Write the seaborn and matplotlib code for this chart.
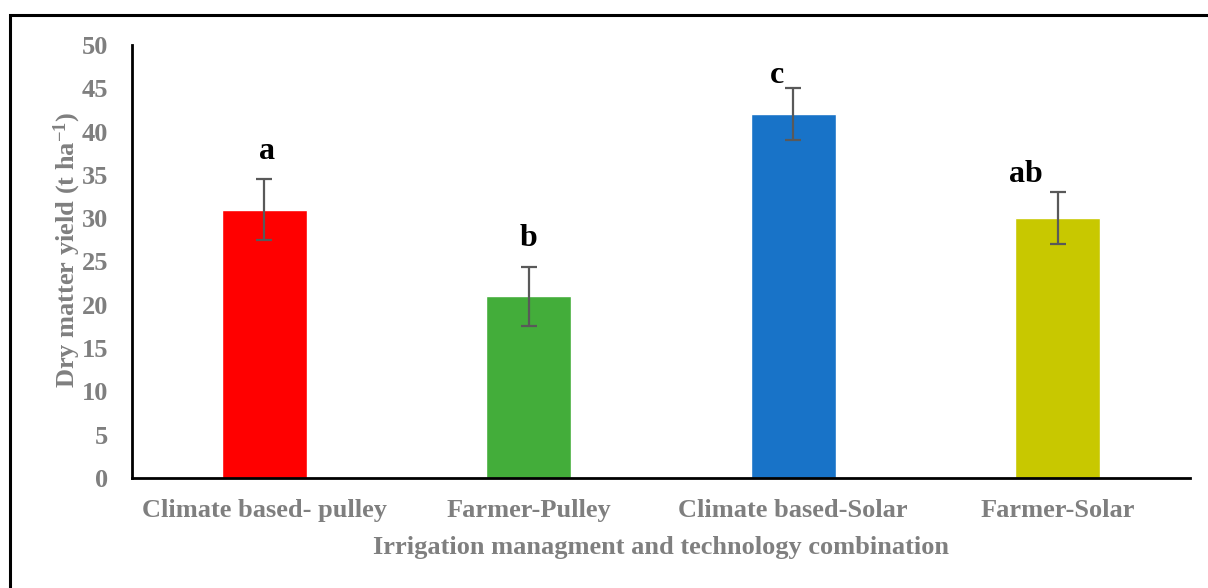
import pandas as pd
import matplotlib
matplotlib.use("Agg")
import matplotlib.pyplot as plt
import seaborn as sns
from matplotlib.patches import Rectangle

# Data
treatments = ["Climate based- pulley", "Farmer-Pulley", "Climate based-Solar", "Farmer-Solar"]
yield_mean = [31.0, 21.0, 42.0, 30.0]
yield_err = [3.55, 3.4, 3.0, 3.0]
letters = ["a", "b", "c", "ab"]
letter_x = [0.01, 0.0, -0.062, -0.12]   # small left shift seen for c and ab
letter_y = [36.8, 26.8, 45.6, 34.2]     # baseline of the letters
bar_colors = ["#ff0000", "#43ad3a", "#1873c8", "#c8c800"]

df = pd.DataFrame({"Treatment": treatments, "Yield": yield_mean})

sns.set_style("white")
plt.rcParams["font.family"] = ["Liberation Serif", "DejaVu Serif"]
plt.rcParams["font.weight"] = "bold"
plt.rcParams["mathtext.fontset"] = "custom"
plt.rcParams["mathtext.rm"] = "Liberation Serif:bold"
plt.rcParams["mathtext.bf"] = "Liberation Serif:bold"
plt.rcParams["mathtext.default"] = "rm"

fig = plt.figure(figsize=(12.08, 5.88), dpi=100)
ax = fig.add_axes([132 / 1208, 110 / 588, 1058 / 1208, 433 / 588])

sns.barplot(data=df, x="Treatment", y="Yield", hue="Treatment",
            palette=bar_colors, width=0.32, errorbar=None, legend=False,
            saturation=1, ax=ax)

# error bars
ax.errorbar(range(len(treatments)), yield_mean, yerr=yield_err, fmt="none",
            ecolor="#595959", elinewidth=1.6, capsize=5.5, capthick=1.6)

# significance letters
for i, (lab, dx, y) in enumerate(zip(letters, letter_x, letter_y)):
    ax.text(i + dx, y, lab, ha="center", va="baseline", fontsize=23,
            fontweight="bold", color="black")

ax.set_ylim(0, 50)
ax.set_xlim(-0.5, 3.5)
ax.set_yticks(range(0, 51, 5))
ax.tick_params(axis="both", length=0, labelsize=19, labelcolor="#7f7f7f")
ax.tick_params(axis="y", pad=17)
ax.tick_params(axis="x", pad=15)
for t in ax.get_xticklabels() + ax.get_yticklabels():
    t.set_fontweight("bold")

for s in ["top", "right"]:
    ax.spines[s].set_visible(False)
for s in ["left", "bottom"]:
    ax.spines[s].set_color("black")
    ax.spines[s].set_linewidth(2)

ax.set_xlabel("Irrigation managment and technology combination", fontsize=19,
              fontweight="bold", color="#7f7f7f")
ax.set_ylabel("Dry matter yield (t ha$^{-1}$)", fontsize=19,
              fontweight="bold", color="#7f7f7f")
ax.xaxis.set_label_coords(0.5, -0.135)
ax.yaxis.set_label_coords(-0.046, 0.527)

# outer chart border
fig.patches.append(Rectangle((10 / 1208, -0.05), 1.1, (588 - 15) / 588 + 0.05,
                             transform=fig.transFigure, fill=False,
                             edgecolor="black", linewidth=2.2))

fig.savefig("out.png", dpi=100)
